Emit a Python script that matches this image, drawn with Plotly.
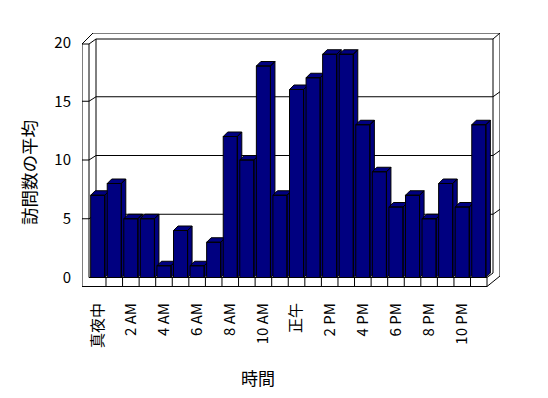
import plotly.graph_objects as go

# ---- data ----
hours = list(range(24))
visits = [7, 8, 5, 5, 1, 4, 1, 3, 12, 10, 18, 7, 16, 17, 19, 19, 13, 9, 6, 7, 5, 8, 6, 13]
tick_pos = list(range(0, 24, 2))
tick_labels = ['真夜中', '2 AM', '4 AM', '6 AM', '8 AM', '10 AM',
               '正午', '2 PM', '4 PM', '6 PM', '8 PM', '10 PM']
y_ticks = [0, 5, 10, 15, 20]
grid_vals = [5, 10, 15]
x_title = '時間'
y_title = '訪問数の平均'

# ---- geometry / style ----
W, H = 548, 398
L, R, T, B = 82, 500, 33, 287
X0PX, SLOT = 97.7, 16.57     # pixel of first category centre, pixels per category
Y0PX, UNIT = 277.5, 11.75    # pixel of value 0, pixels per value unit
FONT = 'Noto Sans CJK JP'
NAVY = '#000080'
BAR_W = 0.85
DX = 4.5 / SLOT
DY = 4.5 / UNIT


def X(px):
    return (px - X0PX) / SLOT


def Y(py):
    return (Y0PX - py) / UNIT


fig = go.Figure()

# 3D bars: each drawn as front, top and side faces, in order left->right
for h, v in zip(hours, visits):
    x0, x1 = h - BAR_W / 2, h + BAR_W / 2
    xs = [x0, x1, x1, x0, x0, None,
          x0, x0 + DX, x1 + DX, x1, x0, None,
          x1, x1 + DX, x1 + DX, x1, x1]
    ys = [0, 0, v, v, 0, None,
          v, v + DY, v + DY, v, v, None,
          v, v + DY, DY, 0, v]
    fig.add_trace(go.Scatter(x=xs, y=ys, mode='lines', fill='toself',
                             fillcolor=NAVY, line=dict(color='black', width=1),
                             hoverinfo='skip', showlegend=False))

# frame (walls, floor, back gridlines)
segs = []


def seg(a, b, c, d):
    segs.append((X(a), Y(b), X(c), Y(d)))


seg(82, 44, 82, 286.5)
seg(89, 44, 89, 277.5)
seg(82, 44, 89, 44)
seg(82, 44, 93, 33)
seg(93, 33, 500, 33)
seg(89, 44, 96, 39)
seg(96, 39, 493, 39)
seg(96, 39, 96, 275)
seg(493, 39, 493, 273)
seg(493, 39, 500, 33)
seg(500, 33, 500, 276)
for gv in grid_vals:
    yf = Y0PX - gv * UNIT
    yb = yf - 4.5
    seg(82, yf, 89, yf)
    seg(89, yf, 96, yb)
    seg(96, yb, 493, yb)
    seg(493, yb, 500, yb - 5)
# floor strip
seg(82, 286.5, 487, 286.5)
seg(89, 277.5, 487, 277.5)
seg(487, 277.5, 487, 286.5)
for i in range(23):
    xp = X0PX + (i + 0.5) * SLOT
    seg(xp, 277.5, xp, 286.5)
seg(487, 286.5, 500, 276)
seg(487, 277.5, 493, 273)

shapes = [dict(type='line', xref='x', yref='y', x0=a, y0=b, x1=c, y1=d,
               line=dict(color='black', width=1), layer='below')
          for a, b, c, d in segs]

fig.update_layout(
    width=W, height=H,
    margin=dict(l=L, r=W - R, t=T, b=H - B, pad=0),
    paper_bgcolor='white', plot_bgcolor='white',
    showlegend=False,
    shapes=shapes,
    font=dict(family=FONT, size=15, color='black'),
    xaxis=dict(range=[X(L), X(R)], tickvals=tick_pos, ticktext=tick_labels,
               tickangle=-90, showgrid=False, zeroline=False, showline=False,
               ticks='', ticklabelstandoff=12, automargin=False,
               tickfont=dict(family=FONT, size=15, color='black'), fixedrange=True),
    yaxis=dict(range=[Y(B), Y(T)], tickvals=y_ticks, showgrid=False,
               zeroline=False, showline=False, ticks='', ticklabelstandoff=10,
               automargin=False,
               tickfont=dict(family=FONT, size=15, color='black'), fixedrange=True),
    annotations=[
        dict(text=x_title, xref='paper', yref='paper',
             x=(258 - L) / (R - L), y=(B - 377) / (B - T),
             showarrow=False, xanchor='center', yanchor='middle',
             font=dict(family=FONT, size=17, color='black')),
        dict(text=y_title, xref='paper', yref='paper',
             x=(28 - L) / (R - L), y=(B - 173) / (B - T), textangle=-90,
             showarrow=False, xanchor='center', yanchor='middle',
             font=dict(family=FONT, size=17.5, color='black')),
    ],
)

fig.write_html('out.html', config={'displayModeBar': False},
               post_script="document.body.style.margin='0';document.body.style.overflow='hidden';")
